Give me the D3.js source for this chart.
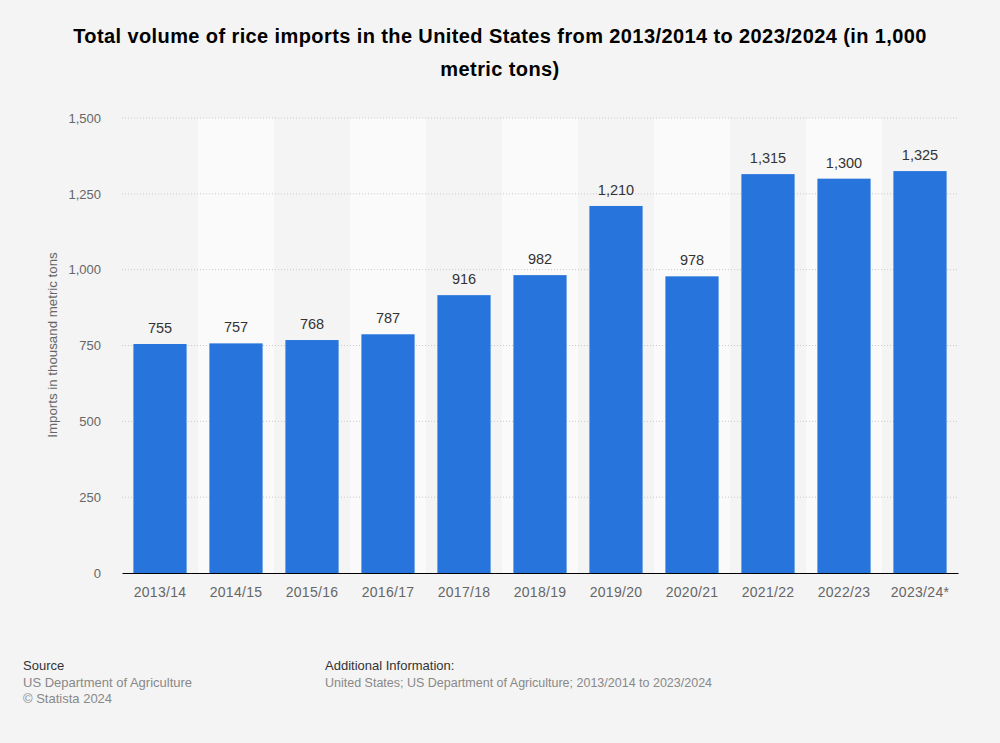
<!DOCTYPE html>
<html><head><meta charset="utf-8">
<script src="https://cdn.jsdelivr.net/npm/d3@7"></script>
<style>body{margin:0;background:#f4f4f4;font-family:"Liberation Sans",Arial,sans-serif;}</style>
</head><body><svg id="c" width="1000" height="743"></svg>
<script>
const categories = ["2013/14","2014/15","2015/16","2016/17","2017/18","2018/19","2019/20","2020/21","2021/22","2022/23","2023/24*"];
const values = [755,757,768,787,916,982,1210,978,1315,1300,1325];
const yTicks = [0,250,500,750,1000,1250,1500];

const svg = d3.select("#c");
svg.append("rect").attr("width",1000).attr("height",743).attr("fill","#f4f4f4");
const m = {l:122, r:958, t:118, b:573};
const x = d3.scaleBand().domain(categories).range([m.l,m.r]).paddingInner(0.3).paddingOuter(0.15);
const xb = d3.scaleBand().domain(categories).range([m.l,m.r]);
const y = d3.scaleLinear().domain([0,1500]).range([m.b,m.t]);

svg.selectAll("rect.band").data(categories.filter((d,i)=>i%2===1)).enter().append("rect")
  .attr("x",d=>xb(d)).attr("width",xb.bandwidth()).attr("y",m.t).attr("height",m.b-m.t).attr("fill","#fafafa");

svg.append("g").selectAll("line").data(yTicks.filter(d=>d>0)).enter().append("line")
  .attr("x1",m.l).attr("x2",m.r).attr("y1",d=>y(d)).attr("y2",d=>y(d))
  .attr("stroke","#c8c8c8").attr("stroke-dasharray","1,2");

const ya = svg.append("g").attr("transform",`translate(${m.l},0)`).call(d3.axisLeft(y).tickValues(yTicks).tickSize(0).tickPadding(21).tickFormat(d3.format(",")));
ya.select(".domain").remove();
ya.selectAll("text").attr("fill","#666").attr("font-size","13px").attr("font-family","Liberation Sans, Arial");

svg.selectAll("rect.bar").data(values).enter().append("rect")
  .attr("x",(d,i)=>x(categories[i])).attr("width",x.bandwidth())
  .attr("y",d=>y(d)).attr("height",d=>m.b-y(d)).attr("fill","#2775dc");

svg.selectAll("text.val").data(values).enter().append("text")
  .attr("x",(d,i)=>x(categories[i])+x.bandwidth()/2).attr("y",d=>y(d)-11)
  .attr("text-anchor","middle").attr("font-size","14.5px").attr("fill","#333").text(d=>d3.format(",")(d));

const xa = svg.append("g").attr("transform",`translate(0,${m.b})`).call(d3.axisBottom(xb).tickSize(0).tickPadding(14));
xa.select(".domain").attr("stroke","#000");
xa.selectAll("text").attr("fill","#666").attr("font-size","14px").attr("letter-spacing","0.3px").attr("font-family","Liberation Sans, Arial");

svg.append("text").attr("transform","translate(57,345) rotate(-90)").attr("text-anchor","middle")
  .attr("font-size","13.3px").attr("fill","#666").text("Imports in thousand metric tons");

const t = svg.append("text").attr("text-anchor","middle").attr("font-size","20px").attr("letter-spacing","0.4px").attr("font-weight","bold").attr("fill","#000");
t.append("tspan").attr("x",500).attr("y",43).text("Total volume of rice imports in the United States from 2013/2014 to 2023/2024 (in 1,000");
t.append("tspan").attr("x",500).attr("y",76).text("metric tons)");

const f = svg.append("g").attr("font-size","13px");
f.append("text").attr("x",23).attr("y",670).attr("fill","#333").text("Source");
f.append("text").attr("x",23).attr("y",687).attr("fill","#888").text("US Department of Agriculture");
f.append("text").attr("x",23).attr("y",703).attr("fill","#888").text("© Statista 2024");
f.append("text").attr("x",325).attr("y",670).attr("fill","#333").text("Additional Information:");
f.append("text").attr("x",325).attr("y",687).attr("fill","#888").attr("font-size","12.5px").text("United States; US Department of Agriculture; 2013/2014 to 2023/2024");
</script></body></html>
